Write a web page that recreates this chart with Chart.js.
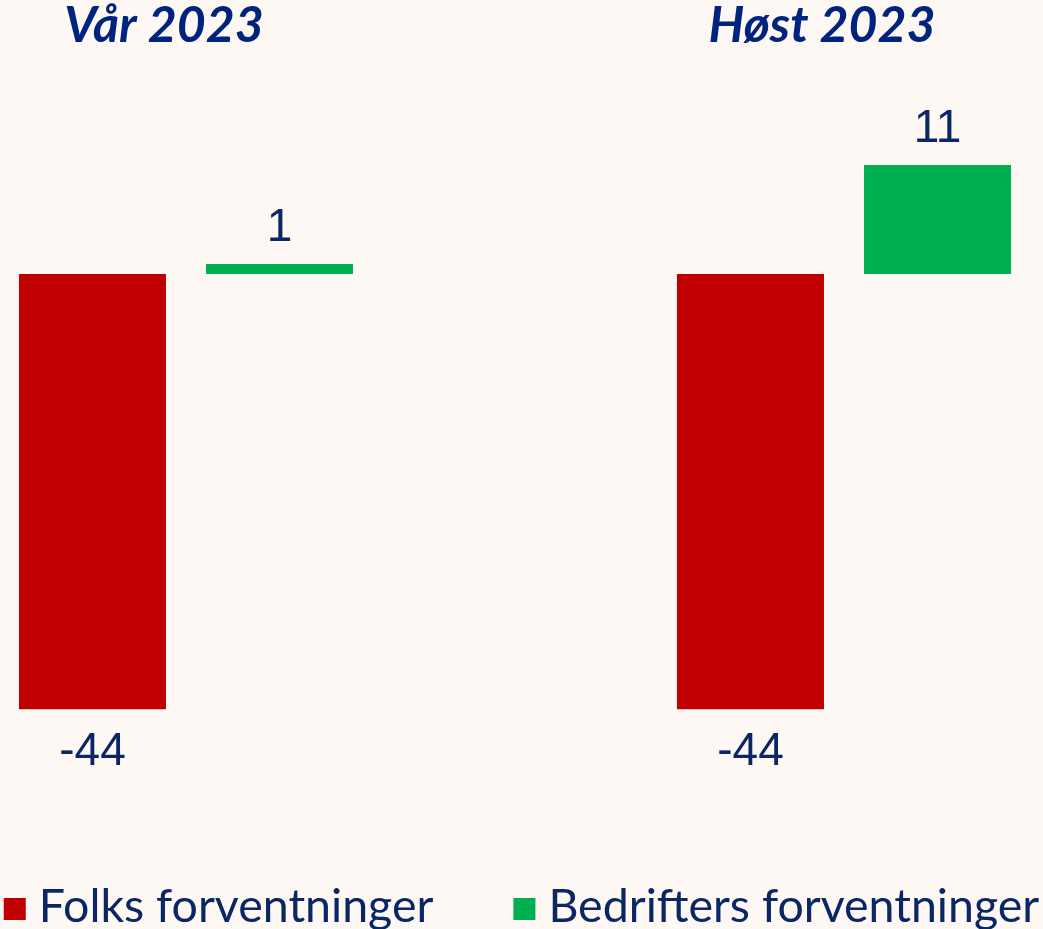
<!DOCTYPE html>
<html>
<head>
<meta charset="utf-8">
<script src="https://cdn.jsdelivr.net/npm/chart.js@4"></script>
<style>
html, body { margin: 0; padding: 0; background: #fdf8f4; }
#wrap { width: 1043px; height: 929px; }
</style>
</head>
<body>
<div id="wrap"><canvas id="chart"></canvas></div>
<script>
// categories (middle one is an empty spacer between the two periods)
const periods = ['Vår 2023', '', 'Høst 2023'];
const folks = [-44, null, -44];
const bedrifter = [1, null, 11];
const seriesNames = ['Folks forventninger', 'Bedrifters forventninger'];

const navy = '#0b2664';

// numbers above / under each bar
const valueLabels = {
  id: 'valueLabels',
  afterDatasetsDraw(chart) {
    const c = chart.ctx;
    c.save();
    c.font = '46px "Liberation Sans", Arial, sans-serif';
    c.fillStyle = navy;
    c.textAlign = 'center';
    c.textBaseline = 'alphabetic';
    chart.data.datasets.forEach((ds, i) => {
      chart.getDatasetMeta(i).data.forEach((bar, j) => {
        const v = ds.data[j];
        if (v == null) return;
        if (v < 0) c.fillText(v, bar.x, bar.y + 56);
        else c.fillText(v, bar.x, bar.y - 23);
      });
    });
    c.restore();
  }
};

// legend row along the bottom edge
const bottomLegend = {
  id: 'bottomLegend',
  afterDraw(chart) {
    const c = chart.ctx;
    const box = 22, gapText = 13, gapItem = 80;
    c.save();
    c.font = '46.5px Lato';
    const items = chart.data.datasets.map(ds => ({
      text: ds.label,
      color: ds.backgroundColor,
      w: c.measureText(ds.label).width
    }));
    const total = items.reduce((s, it) => s + box + gapText + it.w, 0) + gapItem * (items.length - 1);
    let x = (chart.width - total) / 2;
    c.textBaseline = 'alphabetic';
    items.forEach(it => {
      c.fillStyle = it.color;
      c.fillRect(x, 898, box, box);
      c.fillStyle = navy;
      c.fillText(it.text, x + box + gapText, 922);
      x += box + gapText + it.w + gapItem;
    });
    c.restore();
  }
};

new Chart(document.getElementById('chart'), {
  type: 'bar',
  data: {
    labels: periods,
    datasets: [
      {
        label: seriesNames[0],
        data: folks,
        backgroundColor: '#c00000'
      },
      {
        label: seriesNames[1],
        data: bedrifter,
        backgroundColor: '#00b050'
      }
    ]
  },
  options: {
    responsive: true,
    maintainAspectRatio: false,
    animation: false,
    clip: false,
    categoryPercentage: 1.137,
    barPercentage: 0.786,
    layout: {
      padding: { left: 21.5, right: 34.5, top: 0, bottom: 105 }
    },
    plugins: {
      tooltip: { enabled: false },
      legend: { display: false }
    },
    scales: {
      x: {
        position: 'top',
        grid: { display: false, drawTicks: false },
        border: { display: false },
        afterFit(scale) { scale.height = 76; },
        ticks: {
          autoSkip: false,
          maxRotation: 0,
          labelOffset: -22,
          padding: 20,
          color: '#00247d',
          font: { family: 'Lato', size: 50, weight: 'bold', style: 'italic' }
        }
      },
      y: {
        display: false,
        min: -55.6,
        max: 20
      }
    }
  },
  plugins: [valueLabels, bottomLegend]
});
</script>
</body>
</html>
